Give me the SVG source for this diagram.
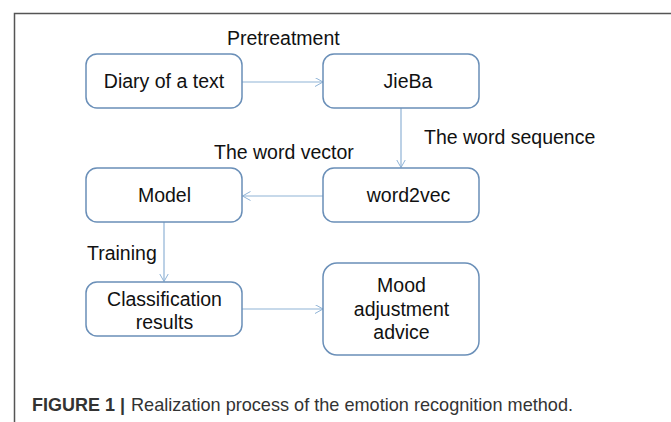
<svg xmlns="http://www.w3.org/2000/svg" width="671" height="422" viewBox="0 0 671 422">
<defs>
<marker id="arr" markerWidth="10" markerHeight="10" refX="8" refY="4.5" orient="auto" markerUnits="userSpaceOnUse">
<path d="M0,0 L8,4.5 L0,9" fill="none" stroke="#8fb3d6" stroke-width="1"/>
</marker>
</defs>
<style>
.box{fill:#fff;stroke:#6a8fb8;stroke-width:1.5}
.t{font-family:"Liberation Sans",Arial,sans-serif;font-size:19.5px;fill:#111}
.m{text-anchor:middle}
.c{stroke:#8fb3d6;stroke-width:1.2;fill:none;marker-end:url(#arr)}
.cap{font-family:"Liberation Sans",Arial,sans-serif;font-size:19px;fill:#333}
</style>
<rect width="671" height="422" fill="#fff"/>
<path d="M14.5,422 V13.5 H671" fill="none" stroke="#555" stroke-width="1.5"/>
<g id="connectors">
<line class="c" x1="242" y1="82" x2="323" y2="82"/>
<line class="c" x1="401" y1="108" x2="401" y2="167.5"/>
<line class="c" x1="323" y1="196" x2="242.5" y2="196"/>
<line class="c" x1="164" y1="222" x2="164" y2="281.5"/>
<line class="c" x1="242" y1="309" x2="323" y2="309"/>
</g>
<g id="labels">
<text class="t" x="227" y="45" font-size="20">Pretreatment</text>
<text class="t" x="424" y="144">The word sequence</text>
<text class="t" x="214" y="159">The word vector</text>
<text class="t" x="87" y="260">Training</text>
</g>
<g id="n1"><rect class="box" x="86" y="54" width="156" height="54" rx="11"/><text class="t m" x="164" y="88">Diary of a text</text></g>
<g id="n2"><rect class="box" x="323" y="54" width="156" height="54" rx="11"/><text class="t m" x="408" y="88">JieBa</text></g>
<g id="n3"><rect class="box" x="86" y="168" width="156" height="54" rx="11"/><text class="t m" x="164.5" y="202">Model</text></g>
<g id="n4"><rect class="box" x="323" y="168" width="156" height="54" rx="11"/><text class="t m" x="408.5" y="202">word2vec</text></g>
<g id="n5"><rect class="box" x="86" y="282" width="156" height="54" rx="11"/><text class="t m" x="164.5" y="306">Classification</text><text class="t m" x="164.5" y="329">results</text></g>
<g id="n6"><rect class="box" x="323" y="263" width="156" height="92" rx="14"/><text class="t m" x="401.5" y="292">Mood</text><text class="t m" x="401.5" y="315.5">adjustment</text><text class="t m" x="401.5" y="339">advice</text></g>
<g id="caption">
<text class="cap" x="32" y="411" font-weight="bold" fill="#222" textLength="93" lengthAdjust="spacingAndGlyphs">FIGURE 1 |</text>
<text class="cap" x="131" y="411" textLength="442" lengthAdjust="spacingAndGlyphs">Realization process of the emotion recognition method.</text>
</g>
</svg>
